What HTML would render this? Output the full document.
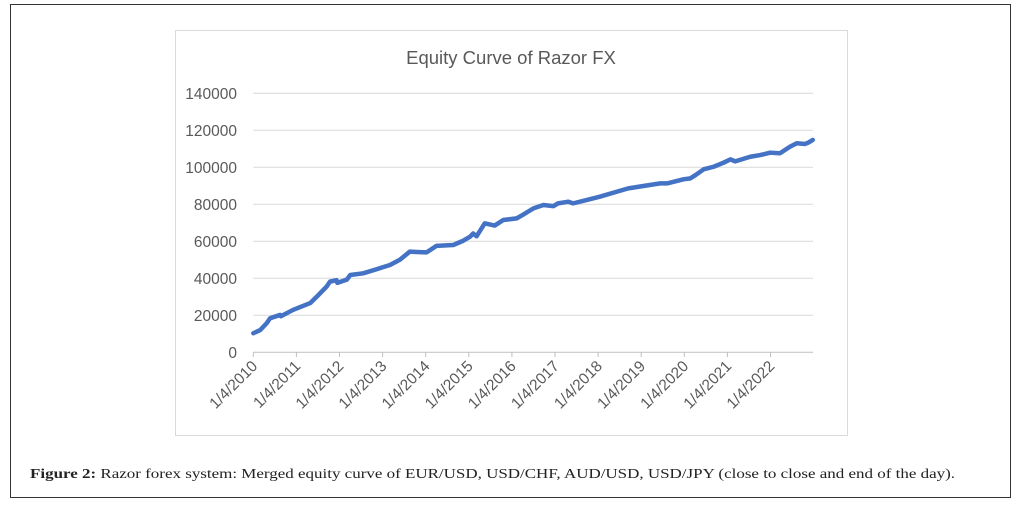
<!DOCTYPE html>
<html><head><meta charset="utf-8"><style>
body{margin:0;background:#fff;width:1020px;height:507px;overflow:hidden;position:relative;font-family:"Liberation Sans",sans-serif}
</style></head><body>
<div style="position:absolute;left:10px;top:4px;width:1001px;height:494px;border:1px solid #333;box-sizing:border-box"></div>
<svg id="chart" width="1020" height="507" style="position:absolute;left:0;top:0">
<rect x="175.5" y="30.5" width="672" height="405" fill="#fff" stroke="#d9d9d9"/>
<text x="511" y="64" text-anchor="middle" font-size="18.5" fill="#595959">Equity Curve of Razor FX</text>
<g id="grid"></g><g id="xaxis"></g><g id="series"></g>
<text x="30" y="478" font-family="'Liberation Serif',serif" font-size="14" fill="#222" textLength="925" lengthAdjust="spacingAndGlyphs"><tspan font-weight="bold">Figure 2:</tspan> Razor forex system: Merged equity curve of EUR/USD, USD/CHF, AUD/USD, USD/JPY (close to close and end of the day).</text>
</svg>
<script>
const yTicks=[0,20000,40000,60000,80000,100000,120000,140000];
const xTickYears=[2010,2011,2012,2013,2014,2015,2016,2017,2018,2019,2020,2021,2022];
const xTickLabels=["1/4/2010","1/4/2011","1/4/2012","1/4/2013","1/4/2014","1/4/2015","1/4/2016","1/4/2017","1/4/2018","1/4/2019","1/4/2020","1/4/2021","1/4/2022"];
const dates=[2010.0,2010.16,2010.31,2010.39,2010.62,2010.64,2010.92,2011.32,2011.47,2011.7,2011.78,2011.93,2011.95,2012.17,2012.25,2012.55,2012.86,2013.17,2013.4,2013.63,2013.79,2014.02,2014.25,2014.64,2014.87,2015.03,2015.1,2015.18,2015.37,2015.6,2015.8,2016.11,2016.23,2016.5,2016.73,2016.96,2017.07,2017.31,2017.42,2017.73,2018.04,2018.43,2018.7,2019.44,2019.6,2019.98,2020.14,2020.26,2020.45,2020.68,2020.91,2021.07,2021.18,2021.53,2021.76,2021.99,2022.22,2022.45,2022.61,2022.8,2022.88,2022.98];
const values=[10300,12000,15700,18400,20200,19500,22900,26600,30000,35500,38200,39000,37500,39300,41800,42700,44900,47200,50000,54400,54200,54000,57500,58000,60300,62500,64200,62700,69700,68500,71500,72400,74000,77800,79600,79000,80500,81400,80500,82300,84100,86800,88600,91300,91300,93500,94000,95800,98900,100300,102500,104300,103200,105700,106600,107900,107600,111100,113000,112600,113400,114800];
const X0=253.3,PX=43.1,Y0=352.3,PY=37/20000;
const xs=d=>X0+(d-2010)*PX, ys=v=>Y0-v*PY;
const NS="http://www.w3.org/2000/svg";
const grid=document.getElementById('grid'),xa=document.getElementById('xaxis'),se=document.getElementById('series');
yTicks.forEach(t=>{
 const l=document.createElementNS(NS,'line');
 
 
 l.setAttribute('x1',X0);l.setAttribute('x2',813);l.setAttribute('y1',ys(t));l.setAttribute('y2',ys(t));
 l.setAttribute('stroke',t===0?'#bfbfbf':'#d9d9d9');l.setAttribute('stroke-width','1');
 grid.appendChild(l);
 const tx=document.createElementNS(NS,'text');
 
 
 tx.setAttribute('x',237);tx.setAttribute('y',ys(t)+5.5);tx.setAttribute('text-anchor','end');
 tx.setAttribute('font-size','15.5');tx.setAttribute('fill','#595959');tx.textContent=t;
 grid.appendChild(tx);
});
xTickYears.forEach((yr,i)=>{
 const x=xs(yr);
 const l=document.createElementNS(NS,'line');
 
 
 l.setAttribute('x1',x);l.setAttribute('x2',x);l.setAttribute('y1',352.3);l.setAttribute('y2',357);l.setAttribute('stroke','#bfbfbf');
 xa.appendChild(l);
 const tx=document.createElementNS(NS,'text');
 
 
 tx.setAttribute('x',x+5);tx.setAttribute('y',367);tx.setAttribute('text-anchor','end');
 tx.setAttribute('font-size','15.5');tx.setAttribute('fill','#595959');
 tx.setAttribute('transform','rotate(-45 '+(x+5)+' 367)');tx.textContent=xTickLabels[i];
 xa.appendChild(tx);
});
const p=document.createElementNS(NS,'polyline');


p.setAttribute('points',dates.map((d,i)=>xs(d)+','+ys(values[i])).join(' '));
p.setAttribute('fill','none');p.setAttribute('stroke','#4472C4');p.setAttribute('stroke-width','4.5');p.setAttribute('stroke-linejoin','round');p.setAttribute('stroke-linecap','round');
se.appendChild(p);
</script>
</body></html>
